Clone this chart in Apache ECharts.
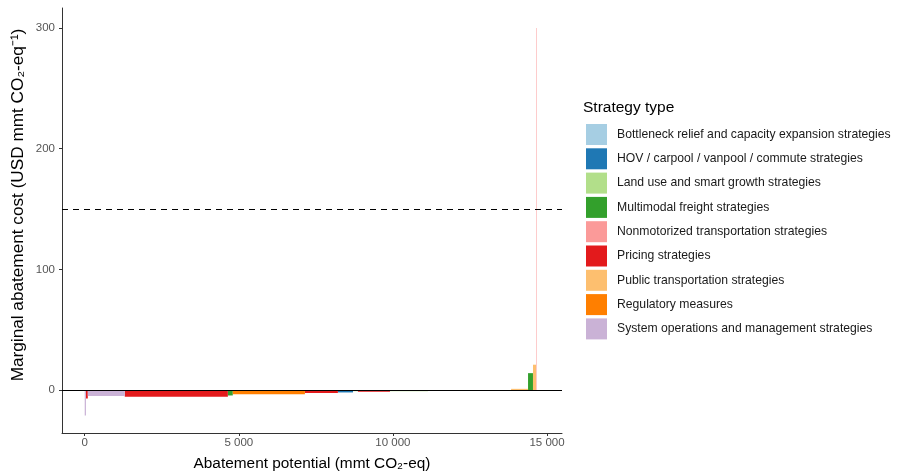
<!DOCTYPE html>
<html>
<head>
<meta charset="utf-8">
<script src="https://cdn.jsdelivr.net/npm/echarts@6/dist/echarts.min.js"></script>
<style>
html,body{margin:0;padding:0;background:#fff;}
#chart{width:898px;height:471px;}
</style>
</head>
<body>
<div id="chart"></div>
<script>
const strategyTypes = [
  'Bottleneck relief and capacity expansion strategies',
  'HOV / carpool / vanpool / commute strategies',
  'Land use and smart growth strategies',
  'Multimodal freight strategies',
  'Nonmotorized transportation strategies',
  'Pricing strategies',
  'Public transportation strategies',
  'Regulatory measures',
  'System operations and management strategies'
];
const typeColors = ['#A6CEE3','#1F78B4','#B2DF8A','#33A02C','#FB9A99','#E31A1C','#FDBF6F','#FF7F00','#CAB2D6'];

// Abatement segments (ordered by cost): width (mmt CO2-eq), cost (USD / mmt), strategy type index
const segWidths = [40, 60, 1200, 3345, 160, 2340, 1070, 490, 160, 1040, 1230, 2700, 550, 160, 100, 15];
const segCosts  = [-21, -7, -5, -5.5, -4.5, -3.5, -2.5, -2, -1, -1.5, -1, -0.7, 1, 14, 21, 300];
const segTypes  = [8, 5, 8, 5, 3, 7, 5, 1, 2, 5, 2, 5, 6, 3, 6, 4];

const xTicks = [0, 5000, 10000, 15000];
const yTicks = [0, 100, 200, 300];
const thresholdCost = 150;

// build cumulative rectangles
const rects = [];
let cum = 0;
for (let i = 0; i < segWidths.length; i++) {
  rects.push({x0: cum, x1: cum + segWidths[i], v: segCosts[i], t: segTypes[i]});
  cum += segWidths[i];
}

function renderRect(params, api) {
  const p0 = api.coord([api.value(0), 0]);
  const p1 = api.coord([api.value(1), api.value(2)]);
  const shape = echarts.graphic.clipRectByRect({
    x: p0[0], y: Math.min(p0[1], p1[1]),
    width: Math.max(p1[0] - p0[0], 0.5), height: Math.abs(p1[1] - p0[1])
  }, {
    x: params.coordSys.x, y: params.coordSys.y,
    width: params.coordSys.width, height: params.coordSys.height
  });
  return shape && {type: 'rect', shape: shape, style: {fill: api.visual('color')}};
}

const fmtThousands = v => String(v).replace(/\B(?=(\d{3})+(?!\d))/g, ' ');
const FONT = 'Liberation Sans, Arial, sans-serif';

const series = strategyTypes.map((name, ti) => ({
  name: name,
  type: 'custom',
  renderItem: renderRect,
  color: typeColors[ti],
  itemStyle: {color: typeColors[ti]},
  encode: {x: [0, 1], y: 2},
  data: rects.filter(r => r.t === ti).map(r => [r.x0, r.x1, r.v]),
  z: 2
}));

series.push({
  type: 'line',
  data: [],
  silent: true,
  markLine: {
    symbol: 'none',
    silent: true,
    label: {show: false},
    data: [
      {yAxis: 0, lineStyle: {color: '#000', width: 1, type: 'solid'}},
      {yAxis: thresholdCost, lineStyle: {color: '#000', width: 1.2, type: [6, 5]}}
    ]
  },
  z: 5
});

const chart = echarts.init(document.getElementById('chart'), null, {renderer: 'canvas'});
chart.setOption({
  animation: false,
  backgroundColor: '#fff',
  textStyle: {fontFamily: FONT},
  grid: {left: 62, right: 336, top: 8, bottom: 38, containLabel: false, outerBoundsMode: 'none'},
  xAxis: {
    type: 'value', min: -737, max: 15487,
    name: 'Abatement potential (mmt CO\u2082-eq)',
    nameLocation: 'middle', nameGap: 23,
    nameTextStyle: {color: '#000', fontSize: 15.4},
    splitLine: {show: false},
    axisLine: {show: true, onZero: false, lineStyle: {color: '#333', width: 1}},
    axisTick: {show: true, length: 3, customValues: xTicks, lineStyle: {color: '#333'}},
    axisLabel: {customValues: xTicks, color: '#555', fontSize: 11.5, margin: 4, formatter: fmtThousands}
  },
  yAxis: {
    type: 'value', min: -35.6, max: 316.6,
    splitLine: {show: false},
    axisLine: {show: true, onZero: false, lineStyle: {color: '#333', width: 1}},
    axisTick: {show: true, length: 3, customValues: yTicks, lineStyle: {color: '#333'}},
    axisLabel: {customValues: yTicks, color: '#555', fontSize: 11.5, margin: 7}
  },
  legend: {
    data: strategyTypes,
    orient: 'vertical',
    left: 586, top: 124,
    padding: 0,
    icon: 'rect',
    itemWidth: 21, itemHeight: 21, itemGap: 3.3,
    textStyle: {color: '#1a1a1a', fontSize: 12.2, padding: [0, 0, 0, 5]},
    selectedMode: false
  },
  graphic: [{
    type: 'text', left: 583, top: 100,
    style: {text: 'Strategy type', fill: '#000', font: '15.5px ' + FONT}
  }, {
    type: 'text', x: 18, y: 205, rotation: Math.PI / 2,
    style: {text: 'Marginal abatement cost (USD mmt CO\u2082-eq\u207B\u00B9)', fill: '#000',
            font: '17.2px ' + FONT, align: 'center', verticalAlign: 'middle'}
  }],
  series: series
});
</script>
</body>
</html>
